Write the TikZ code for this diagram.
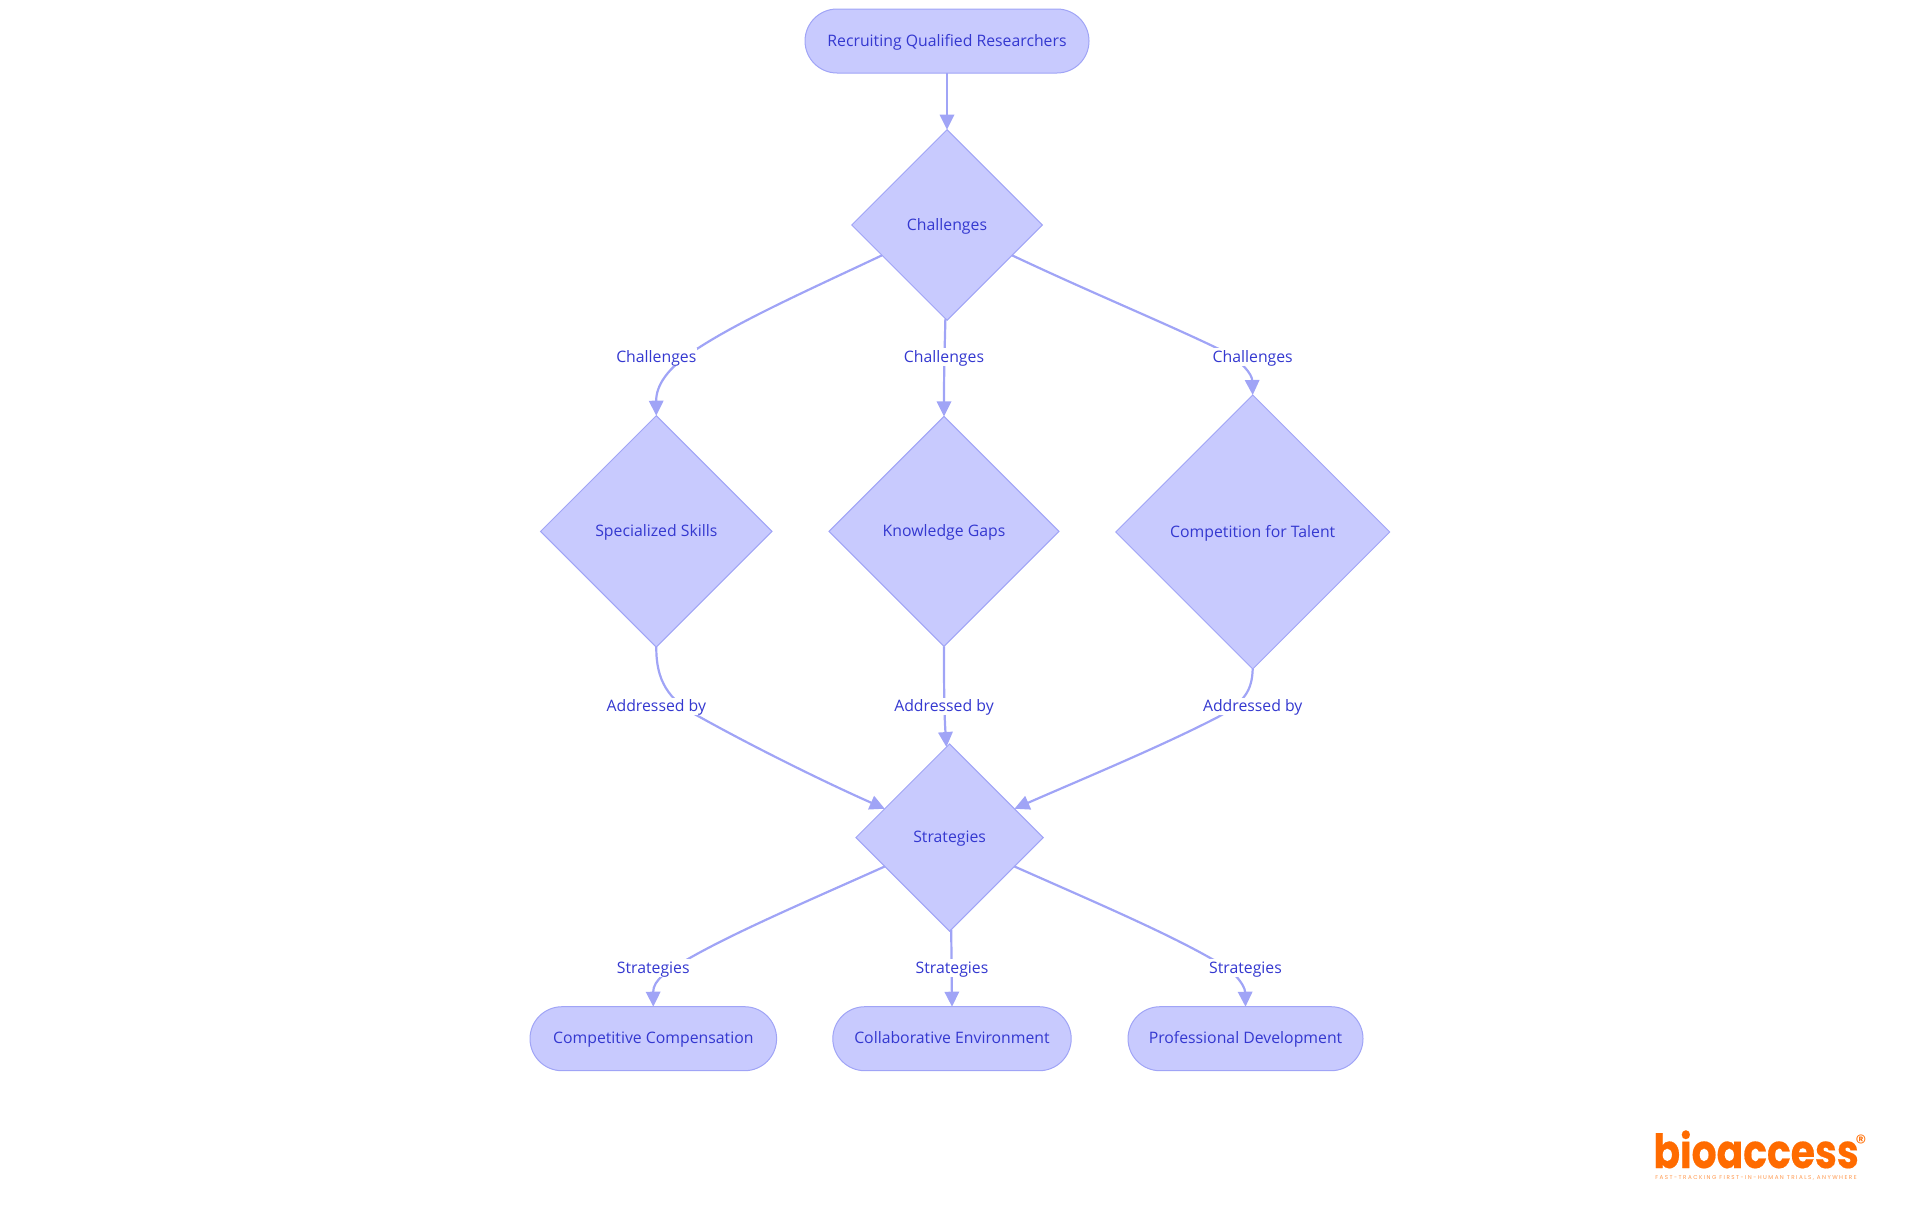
\documentclass[tikz,border=0pt]{standalone}
\usepackage{fontspec}
\setmainfont{Open Sans}
\newfontfamily\logofont[FakeStretch=0.835,FakeBold=0.4]{Poppins}
\newfontfamily\regfont{Poppins}
\newfontfamily\tagfont[LetterSpace=26]{Poppins}
\usetikzlibrary{shapes.geometric,arrows.meta}
\definecolor{boxfill}{HTML}{C8CAFE}
\definecolor{boxline}{HTML}{A0A4F6}
\definecolor{boxtext}{HTML}{3438D0}
\definecolor{logoorange}{HTML}{FF6B00}
\tikzset{
	pill/.style={
		shape = rectangle,
		draw = boxline,
		fill = boxfill,
		line width = 0.5pt,
		inner sep = 0,
		outer sep = 0,
		rounded corners = 16pt,
		minimum height = 32pt,
		text height = 6.5pt,
		text depth = 1.5pt,
		text = boxtext
	},
	decision/.style={
		shape = diamond,
		aspect = 1,
		draw = boxline,
		fill = boxfill,
		line width = 0.5pt,
		inner sep = 0,
		outer sep = 0,
		text height = 6.5pt,
		text depth = 1.5pt,
		text = boxtext
	},
	edgelabel/.style={
		fill = white,
		inner sep = 0.4pt,
		text height = 6.5pt,
		text depth = 1.5pt,
		text = boxtext
	},
	edge/.style={
		draw = boxline,
		line width = 1.1pt,
		-{Triangle[length=7.5pt,width=7.2pt]}
	},
}

\begin{document}
\begin{tikzpicture}[x=0.5pt, y=-0.5pt, font=\fontsize{7.9}{10}\selectfont]
    \useasboundingbox (0,0) rectangle (1920,1215);
    \foreach \x/\y/\w/\nm/\txt in {947/41/142/top/Recruiting Qualified Researchers,
      653.3/1038.7/123.3/comp/Competitive Compensation,
      952/1038.7/119.2/collab/Collaborative Environment,
      1245.5/1038.7/117.5/prof/Professional Development}{
      \node[pill, minimum width=\w pt] (\nm) at (\x,\y) {\txt};
    }
    \foreach \x/\y/\w/\nm/\txt in {947/225/95.3/chal/Challenges,
      656.3/531.4/115.7/skills/Specialized Skills,
      944/531.4/115/gaps/Knowledge Gaps,
      1252.7/532/137/talent/Competition for Talent,
      949.6/837.6/93.7/strat/Strategies}{
      \node[decision, minimum width=\w pt, minimum height=\w pt] (\nm) at (\x,\y) {\txt};
    }
    \draw[edge] (top) -- (chal.north);
    \draw[edge] (chal.205) .. controls (800,294) and (730,325) .. (685,357) .. controls (668,370) and (656,385) .. (skills.north);
    \draw[edge] (chal.269) .. controls (945,340) and (944,360) .. (gaps.north);
    \draw[edge] (chal.335) .. controls (1094,294) and (1170,325) .. (1225,352) .. controls (1242,362) and (1252,374) .. (talent.north);
    \draw[edge] (skills.south) .. controls (656,680) and (668,700) .. (698,716) .. controls (750,745) and (820,780) .. (strat.156);
    \draw[edge] (gaps.south) .. controls (944,680) and (944,710) .. (strat.92);
    \draw[edge] (talent.south) .. controls (1252,690) and (1245,702) .. (1218,717) .. controls (1160,747) and (1080,780) .. (strat.24);
    \draw[edge] (strat.204) .. controls (810,900) and (735,932) .. (688,959) .. controls (668,970) and (653,980) .. (comp.north);
    \draw[edge] (strat.271.5) -- (collab.north);
    \draw[edge] (strat.336) .. controls (1090,900) and (1165,932) .. (1212,959) .. controls (1232,968) and (1245,985) .. (prof.north);
    \foreach \x/\y/\txt in {656.3/357/Challenges, 944/357/Challenges, 1252.7/357/Challenges,
      656.3/706.5/Addressed by, 944/706.5/Addressed by, 1252.7/706.5/Addressed by,
      653.3/968/Strategies, 952/968/Strategies, 1245.5/968/Strategies}{
      \node[edgelabel] at (\x,\y) {\txt};
    }
    \node[text=logoorange, anchor=base west, inner sep=0, font=\logofont\bfseries\fontsize{23.5}{24}\selectfont] (logo) at (1653,1168) {bioaccess};
    \node[text=logoorange, inner sep=0, font=\regfont\fontsize{11}{12}\selectfont] (reg) at (1861,1143) {®};
    \node[text=logoorange!70, anchor=base west, inner sep=0, font=\tagfont\fontsize{2.8}{3}\selectfont] (tag) at (1655,1179) {FAST-TRACKING FIRST-IN-HUMAN TRIALS, ANYWHERE};
  \end{tikzpicture}
\end{document}
